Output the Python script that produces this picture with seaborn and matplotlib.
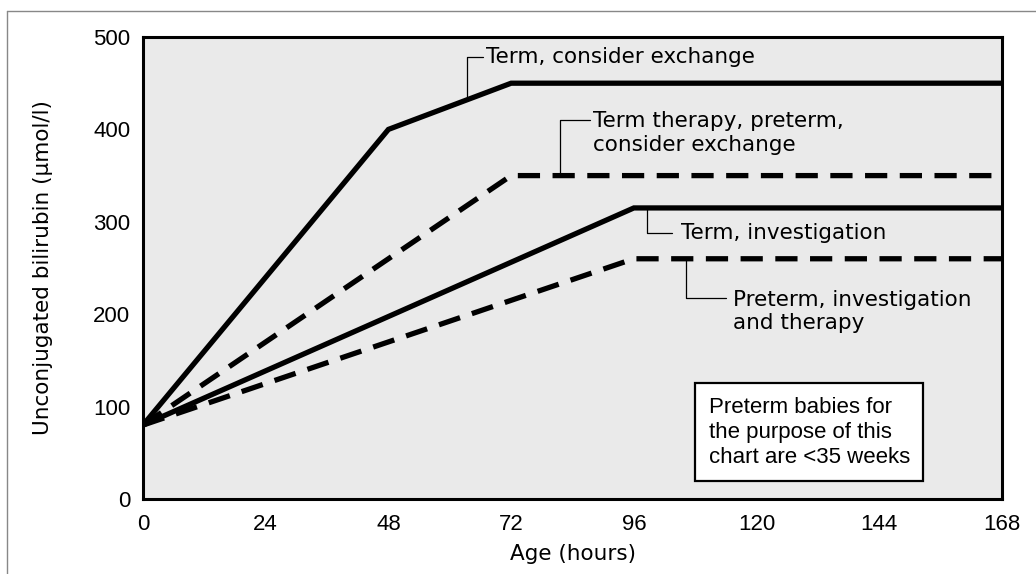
import matplotlib
matplotlib.use("Agg")
import matplotlib.pyplot as plt
from matplotlib.lines import Line2D
import seaborn as sns
import pandas as pd

# Treatment thresholds for unconjugated bilirubin by age
age_exchange_term = [0, 48, 72, 168]
bili_exchange_term = [80, 400, 450, 450]

age_therapy_term = [0, 72, 168]
bili_therapy_term = [80, 350, 350]

age_invest_term = [0, 96, 168]
bili_invest_term = [80, 315, 315]

age_invest_preterm = [0, 96, 168]
bili_invest_preterm = [80, 260, 260]

series_names = [
    "Term, consider exchange",
    "Term therapy, preterm,\nconsider exchange",
    "Term, investigation",
    "Preterm, investigation\nand therapy",
]
x_ticks = [0, 24, 48, 72, 96, 120, 144, 168]
y_ticks = [0, 100, 200, 300, 400, 500]

frames = []
for name, xs, ys in zip(
    series_names,
    [age_exchange_term, age_therapy_term, age_invest_term, age_invest_preterm],
    [bili_exchange_term, bili_therapy_term, bili_invest_term, bili_invest_preterm],
):
    frames.append(pd.DataFrame({"age": xs, "bilirubin": ys, "series": name}))
df = pd.concat(frames, ignore_index=True)

sns.set_theme(style="white")
plt.rcParams["font.family"] = ["Liberation Sans", "DejaVu Sans"]
plt.rcParams["lines.scale_dashes"] = False
plt.rcParams["text.color"] = "black"
plt.rcParams["axes.labelcolor"] = "black"

WIDE = ["DejaVu Sans"]

fig = plt.figure(figsize=(10.36, 5.74), dpi=100)
ax = fig.add_axes([143 / 1036, 1 - 499 / 574, 859 / 1036, 462 / 574])
ax.set_facecolor("#eaeaea")

dash_styles = {
    series_names[0]: "",
    series_names[1]: (16, 9),
    series_names[2]: "",
    series_names[3]: (16, 9),
}
sns.lineplot(
    data=df, x="age", y="bilirubin", hue="series", style="series",
    palette=["black"] * 4, dashes=dash_styles, linewidth=3.8,
    sort=False, estimator=None, legend=False, ax=ax,
)
for ln in ax.get_lines():
    ln.set_solid_joinstyle("miter")
    ln.set_dash_capstyle("butt")

ax.set_xlim(0, 168)
ax.set_ylim(0, 500)
ax.set_xticks(x_ticks)
ax.set_yticks(y_ticks)
ax.tick_params(axis="both", length=0, labelsize=16, colors="black")
ax.tick_params(axis="x", pad=11)
ax.tick_params(axis="y", pad=9)
ax.set_xlabel("Age (hours)", fontsize=15.5, family=WIDE, labelpad=6)
ax.set_ylabel("Unconjugated bilirubin (\u00b5mol/l)", fontsize=15.5, family=WIDE, labelpad=29)
for sp in ax.spines.values():
    sp.set_visible(True)
    sp.set_color("black")
    sp.set_linewidth(2.2)

# Callout labels with elbow leader lines
lead_kw = dict(color="black", lw=0.9)
txt_kw = dict(fontsize=15.5, family=WIDE, color="black", va="center", ha="left")

# Term, consider exchange
ax.plot([63.4, 63.4, 66.5], [433, 478, 478], **lead_kw)
ax.text(67.0, 478, series_names[0], **txt_kw)

# Term therapy, preterm, consider exchange
ax.plot([81.6, 81.6, 87.5], [350, 410, 410], **lead_kw)
ax.text(88.0, 396, series_names[1], linespacing=1.2, **txt_kw)

# Term, investigation
ax.plot([98.6, 98.6, 103.5], [315, 288, 288], **lead_kw)
ax.text(105.2, 288, series_names[2], **txt_kw)

# Preterm, investigation and therapy
ax.plot([106.2, 106.2, 114.0], [260, 218, 218], **lead_kw)
ax.text(115.4, 203, series_names[3], linespacing=1.2, **txt_kw)

# Note box
ax.text(
    110.6, 72.5, "Preterm babies for\nthe purpose of this\nchart are <35 weeks",
    fontsize=16, ha="left", va="center", linespacing=1.25,
    bbox=dict(boxstyle="square,pad=0.6", facecolor="white", edgecolor="black", linewidth=1.6),
)

# Outer frame lines along the top and left edge
fig.add_artist(Line2D([7 / 1036, 1.0], [1 - 11 / 574, 1 - 11 / 574], color="#888888", lw=1.0))
fig.add_artist(Line2D([7 / 1036, 7 / 1036], [0.0, 1 - 11 / 574], color="#888888", lw=1.0))

fig.savefig("out.png", dpi=100, facecolor="white")
